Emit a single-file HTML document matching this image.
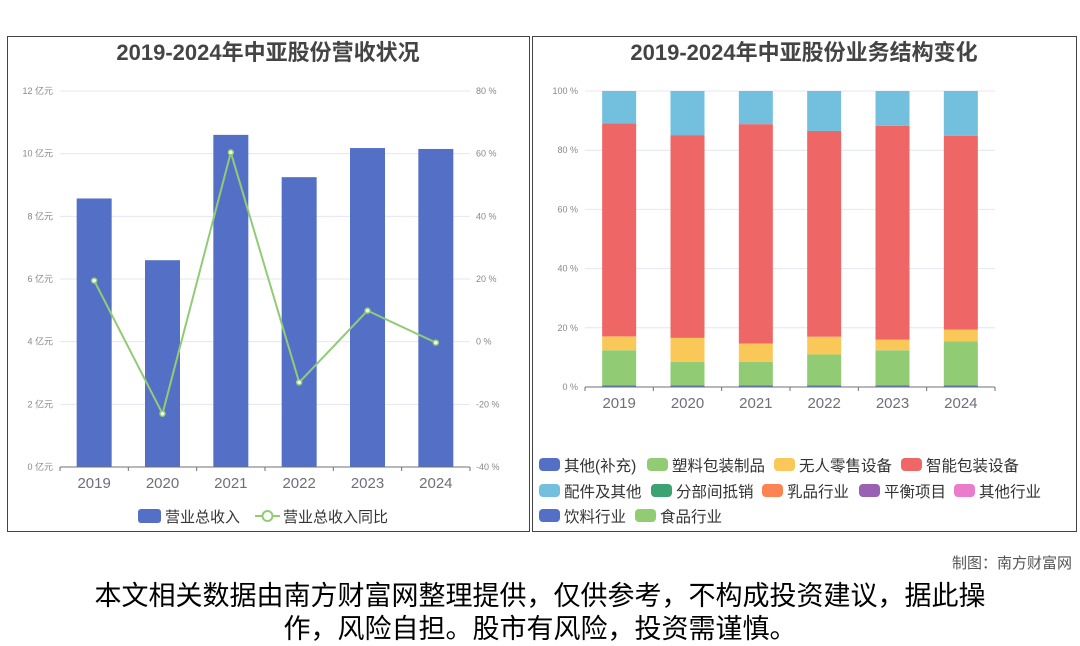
<!DOCTYPE html>
<html><head><meta charset="utf-8">
<style>
body{margin:0;width:1080px;height:646px;background:#fff;font-family:"Liberation Sans","Noto Sans CJK SC",sans-serif;overflow:hidden;position:relative}
.panel{position:absolute;border:1px solid #444;background:#fff}
.t{position:absolute;white-space:nowrap}
</style></head><body>
<div class="panel" style="left:7px;top:36px;width:521px;height:494px"></div>
<div class="panel" style="left:532px;top:36px;width:543px;height:494px"></div>
<svg id="c" width="1080" height="646" style="position:absolute;left:0;top:0" font-family="Liberation Sans, Noto Sans CJK SC, sans-serif"></svg>
<div class="t" style="right:8px;top:552px;font-size:15px;color:#555">制图：南方财富网</div>
<div class="t" style="left:0;width:1080px;top:580px;text-align:center;font-size:27px;line-height:33px;color:#000;white-space:normal">本文相关数据由南方财富网整理提供，仅供参考，不构成投资建议，据此操<br>作，风险自担。股市有风险，投资需谨慎。</div>
<script>
const years=["2019","2020","2021","2022","2023","2024"];
const revenue=[8.57,6.6,10.6,9.25,10.18,10.15];
const yoy=[19.5,-23,60.4,-13,9.9,-0.3];
const leftTicks=[0,2,4,6,8,10,12];
const rightTicks=[-40,-20,0,20,40,60,80];
const sOther=[0.5,0.5,0.5,0.5,0.5,0.5];
const sPlastic=[11.9,8.0,8.0,10.5,11.9,14.9];
const sRetail=[4.7,8.1,6.2,6.0,3.6,4.0];
const sSmart=[72,68.5,74.1,69.5,72.2,65.5];
const sParts=[10.9,14.9,11.2,13.5,11.8,15.1];
const pctTicks=[0,20,40,60,80,100];

const svg=document.getElementById('c');const NS="http://www.w3.org/2000/svg";
function mk(tag,attrs,name,inter){const e=document.createElementNS(NS,tag);for(const k in attrs)e.setAttribute(k,attrs[k]);


svg.appendChild(e);return e;}
function txt(x,y,s,size,fill,anchor,name,weight){const e=mk('text',{x:x,y:y,'font-size':size,fill:fill,'text-anchor':anchor||'start','font-weight':weight||'normal'},name,false);e.textContent=s;return e;}

txt(268,60,"2019-2024年中亚股份营收状况",22,"#444","middle","left-chart-title","bold");
txt(804,60,"2019-2024年中亚股份业务结构变化",22,"#444","middle","right-chart-title","bold");

const L={x0:60,x1:470,yTop:91,yBot:467};
const yL=v=>L.yBot-(v/12)*(L.yBot-L.yTop);
const yR=v=>L.yBot-((v+40)/120)*(L.yBot-L.yTop);
const bw=(L.x1-L.x0)/years.length;
const xc=i=>L.x0+bw*(i+0.5);
leftTicks.forEach(t=>{const y=yL(t);
 if(t>0)mk('line',{x1:L.x0,x2:L.x1,y1:y,y2:y,stroke:"#e4e6f2"},"grid-line",false);
 txt(53,y+3,t+" 亿元",9,"#888","end","y-left-tick");});
rightTicks.forEach(t=>{txt(476,yR(t)+3,t+" %",9,"#888","start","y-right-tick");});
revenue.forEach((v,i)=>{mk('rect',{x:xc(i)-17.5,y:yL(v),width:35,height:L.yBot-yL(v),fill:"#5470c6"},"bar-revenue-"+years[i],true);});
mk('line',{x1:L.x0,x2:L.x1,y1:L.yBot,y2:L.yBot,stroke:"#6e7079"},"x-axis",false);
years.forEach((y,i)=>{const x=L.x0+bw*i;mk('line',{x1:x,x2:x,y1:L.yBot,y2:L.yBot+4,stroke:"#6e7079"},"x-tick",false);
 txt(xc(i),488,y,15,"#6e7079","middle","x-label");});
mk('line',{x1:L.x1,x2:L.x1,y1:L.yBot,y2:L.yBot+4,stroke:"#6e7079"},"x-tick",false);
mk('polyline',{points:yoy.map((v,i)=>xc(i)+","+yR(v)).join(" "),fill:"none",stroke:"#91cc75","stroke-width":2},"yoy-line",false);
yoy.forEach((v,i)=>mk('circle',{cx:xc(i),cy:yR(v),r:2.5,fill:"#fff",stroke:"#91cc75","stroke-width":1.5},"yoy-point-"+years[i],true));
mk('rect',{x:138,y:509,width:23,height:14,rx:3,fill:"#5470c6"},"legend-revenue-swatch",true);
txt(165,522,"营业总收入",15,"#333","start","legend-revenue");
mk('line',{x1:255,x2:280,y1:516,y2:516,stroke:"#91cc75","stroke-width":2},"legend-yoy-line",true);
mk('circle',{cx:267.5,cy:516,r:5,fill:"#fff",stroke:"#91cc75","stroke-width":2},"legend-yoy-marker",true);
txt(283,522,"营业总收入同比",15,"#333","start","legend-yoy");

const R={x0:585,x1:995,yTop:91,yBot:387};
const yP=v=>R.yBot-(v/100)*(R.yBot-R.yTop);
const bw2=(R.x1-R.x0)/years.length;
const xc2=i=>R.x0+bw2*(i+0.5);
pctTicks.forEach(t=>{const y=yP(t);
 if(t>0)mk('line',{x1:R.x0,x2:R.x1,y1:y,y2:y,stroke:"#e4e6f2"},"grid-line",false);
 txt(578,y+3,t+" %",9,"#888","end","y-pct-tick");});
const series=[[sOther,"#5470c6","其他(补充)"],[sPlastic,"#91cc75","塑料包装制品"],[sRetail,"#fac858","无人零售设备"],[sSmart,"#ee6666","智能包装设备"],[sParts,"#73c0de","配件及其他"]];
years.forEach((yr,i)=>{let acc=0;series.forEach(([arr,col,nm])=>{const v=arr[i];
 mk('rect',{x:xc2(i)-17,y:yP(acc+v),width:34,height:yP(acc)-yP(acc+v),fill:col},"bar-"+nm+"-"+yr,true);acc+=v;});});
mk('line',{x1:R.x0,x2:R.x1,y1:R.yBot,y2:R.yBot,stroke:"#6e7079"},"x-axis-right",false);
years.forEach((y,i)=>{const x=R.x0+bw2*i;mk('line',{x1:x,x2:x,y1:R.yBot,y2:R.yBot+4,stroke:"#6e7079"},"x-tick",false);
 txt(xc2(i),408,y,15,"#6e7079","middle","x-label-right");});
mk('line',{x1:R.x1,x2:R.x1,y1:R.yBot,y2:R.yBot+4,stroke:"#6e7079"},"x-tick",false);
const leg=[[539,465,"#5470c6","其他(补充)"],[647,465,"#91cc75","塑料包装制品"],[774,465,"#fac858","无人零售设备"],[901,465,"#ee6666","智能包装设备"],
[539,491,"#73c0de","配件及其他"],[651,491,"#3ba272","分部间抵销"],[762,491,"#fc8452","乳品行业"],[859,491,"#9a60b4","平衡项目"],[954,491,"#ea7ccc","其他行业"],
[539,516,"#5470c6","饮料行业"],[635,516,"#91cc75","食品行业"]];
leg.forEach(([x,y,c,n])=>{mk('rect',{x:x,y:y-7,width:21,height:13,rx:4,fill:c},"legend-swatch-"+n,true);
 txt(x+25,y+6,n,15.5,"#333","start","legend-"+n);});
</script>
</body></html>
